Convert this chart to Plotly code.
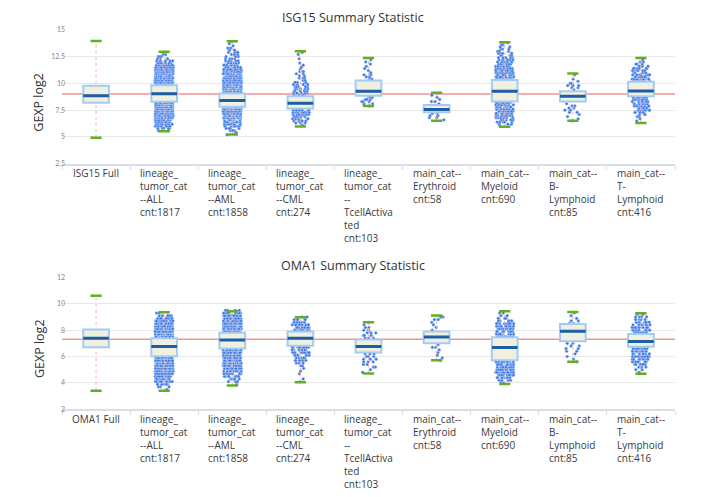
import numpy as np
import plotly.graph_objects as go

# category keys and the multi-line x labels under each box
group_keys = ["Full", "ALL", "AML", "CML", "TcellActivated",
              "Erythroid", "Myeloid", "B-Lymphoid", "T-Lymphoid"]
group_labels = [
    "lineage_<br>tumor_cat<br>--ALL<br>cnt:1817",
    "lineage_<br>tumor_cat<br>--AML<br>cnt:1858",
    "lineage_<br>tumor_cat<br>--CML<br>cnt:274",
    "lineage_<br>tumor_cat<br>--<br>TcellActiva<br>ted<br>cnt:103",
    "main_cat--<br>Erythroid<br>cnt:58",
    "main_cat--<br>Myeloid<br>cnt:690",
    "main_cat--<br>B-<br>Lymphoid<br>cnt:85",
    "main_cat--<br>T-<br>Lymphoid<br>cnt:416",
]

# ISG15 summary stats
isg_q1 = [8.20, 8.29, 7.83, 7.65, 8.84, 7.31, 8.32, 8.32, 8.81]
isg_median = [8.84, 9.03, 8.41, 8.14, 9.27, 7.56, 9.27, 8.81, 9.30]
isg_q3 = [9.79, 9.82, 9.06, 8.81, 10.28, 7.99, 10.31, 9.27, 10.16]
isg_lower = [4.92, 5.53, 5.23, 5.99, 7.89, 6.51, 5.96, 6.51, 6.30]
isg_upper = [13.96, 12.95, 13.93, 13.00, 12.37, 9.12, 13.84, 10.93, 12.37]
isg_ref = 9.0

# ISG15 sample points outside the boxes, as counts per 0.2 bin (groups 2..9)
isg_hi_start = [9.9, 9.1, 8.9, 10.4, 8.1, 10.4, 9.4, 10.2]
isg_hi_counts = [
    [30, 30, 30, 30, 30, 28, 25, 22, 18, 14, 9, 6, 5, 4, 2, 1],
    [30, 30, 30, 30, 30, 28, 26, 24, 22, 20, 16, 13, 10, 8, 7, 5, 4, 4, 3, 3, 2, 2, 1, 1, 1],
    [6, 6, 5, 5, 5, 4, 4, 3, 3, 2, 2, 2, 1, 1, 1, 1, 0, 1, 0, 1, 1],
    [2, 2, 2, 1, 1, 1, 1, 1, 1, 1],
    [1, 2, 1, 1, 1, 1],
    [12, 12, 12, 11, 11, 10, 10, 9, 7, 6, 5, 4, 4, 3, 3, 2, 2, 1],
    [1, 2, 3, 2, 1, 1, 0, 1],
    [11, 11, 11, 10, 9, 7, 6, 5, 3, 2, 1],
]
isg_lo_start = [8.2, 7.8, 7.5, 8.7, 7.2, 8.2, 8.1, 8.7]
isg_lo_counts = [
    [30, 30, 30, 30, 28, 26, 23, 20, 16, 12, 10, 7, 5, 2],
    [30, 30, 30, 29, 27, 21, 16, 11, 8, 6, 4, 3, 2, 1],
    [10, 10, 9, 8, 7, 5, 3, 1],
    [3, 4, 4, 3, 1],
    [2, 2, 2, 1],
    [12, 12, 12, 12, 11, 11, 10, 9, 7, 5, 3, 1],
    [1, 2, 2, 2, 2, 1, 1, 1, 1],
    [11, 11, 11, 10, 9, 8, 6, 5, 3, 2, 1, 1],
]

# OMA1 summary stats
oma_q1 = [6.71, 6.02, 6.61, 6.81, 6.31, 7.01, 5.72, 7.16, 6.74]
oma_median = [7.39, 6.76, 7.26, 7.39, 6.76, 7.48, 6.69, 7.91, 7.14]
oma_q3 = [8.04, 7.39, 7.81, 7.89, 7.29, 7.89, 7.46, 8.46, 7.71]
oma_lower = [3.40, 3.40, 3.80, 4.04, 4.72, 5.72, 3.92, 5.61, 4.69]
oma_upper = [10.60, 9.35, 9.43, 8.98, 8.60, 9.11, 9.43, 9.38, 9.28]
oma_ref = 7.3

oma_hi_start = [7.5, 7.9, 8.0, 7.4, 8.0, 7.5, 8.5, 7.8]
oma_hi_counts = [
    [32, 32, 32, 30, 28, 24, 17, 9, 5, 2],
    [32, 32, 32, 30, 28, 24, 18, 10, 4],
    [11, 11, 9, 7, 5, 2],
    [3, 3, 3, 2, 2, 1, 1],
    [1, 1, 1, 1, 2, 3],
    [13, 13, 13, 12, 11, 9, 6, 4, 2, 2],
    [2, 2, 1, 1, 1],
    [11, 11, 10, 9, 7, 5, 4, 2],
]
oma_lo_start = [5.9, 6.5, 6.7, 6.2, 6.9, 5.6, 7.0, 6.6]
oma_lo_counts = [
    [32, 32, 32, 30, 28, 26, 22, 18, 13, 9, 6, 3, 1],
    [32, 32, 32, 30, 29, 27, 24, 20, 15, 10, 7, 5, 3, 1],
    [10, 10, 9, 8, 6, 5, 3, 2, 1, 1, 1, 0, 1, 1],
    [3, 3, 3, 3, 2, 2, 1, 1],
    [1, 2, 1, 1, 1, 1, 1],
    [13, 13, 13, 13, 12, 11, 7, 4, 2],
    [2, 2, 2, 2, 1, 1, 1, 1],
    [11, 11, 11, 10, 9, 7, 6, 4, 2, 1],
]

BIN = 0.2
FONT = "Lato"
LABEL_FONT = "Open Sans"

# page body has an 8px margin, so the figure is sized/placed for that
W, H, OFF = 698, 489, 8


def xp(px):
    return (px - OFF) / W


def yp(py):
    return 1 - (py - OFF) / H


def expand_points(keys, hi_start, hi_counts, lo_start, lo_counts):
    xs, ys = [], []
    for k, s, c in zip(keys, hi_start, hi_counts):
        lv = s + BIN * np.arange(len(c))
        v = np.repeat(lv, c)
        ys += list(v)
        xs += [k] * len(v)
    for k, s, c in zip(keys, lo_start, lo_counts):
        lv = s - BIN * np.arange(len(c))
        v = np.repeat(lv, c)
        ys += list(v)
        xs += [k] * len(v)
    return xs, ys


def add_panel(fig, xa, ya, xo, yo, q1, med, q3, lower, upper, pts):
    # base axes: dotted whiskers + jittered samples
    wx, wy = [], []
    for k, lo, hi in zip(group_keys, lower, upper):
        wx += [k, k, None]
        wy += [lo, hi, None]
    fig.add_trace(go.Scatter(x=wx, y=wy, mode="lines", xaxis=xa, yaxis=ya,
                             line=dict(color="#f5b3b3", width=1, dash="dot"),
                             hoverinfo="skip"))
    fig.add_trace(go.Box(x=pts[0], y=pts[1], xaxis=xa, yaxis=ya,
                         boxpoints="all", jitter=0.7, pointpos=0,
                         fillcolor="rgba(0,0,0,0)", whiskerwidth=0,
                         line=dict(width=0, color="rgba(0,0,0,0)"),
                         marker=dict(size=3.2, color="#3b79e6",
                                     line=dict(width=0.4, color="#dfe9fb")),
                         hoverinfo="skip"))
    # overlay axes: boxes drawn above the samples
    fig.add_trace(go.Box(x=group_keys, q1=q1, median=med, q3=q3,
                         lowerfence=q1, upperfence=q3, xaxis=xo, yaxis=yo,
                         boxpoints=False, whiskerwidth=0,
                         fillcolor="#f0f0e1",
                         line=dict(color="#a4ccf2", width=2)))
    fig.add_trace(go.Box(x=group_keys, q1=med, median=med, q3=med,
                         lowerfence=med, upperfence=med, xaxis=xo, yaxis=yo,
                         boxpoints=False, whiskerwidth=0,
                         fillcolor="rgba(0,0,0,0)",
                         line=dict(color="#1d5ea6", width=3)))
    fig.add_trace(go.Scatter(x=group_keys + group_keys, y=list(lower) + list(upper),
                             mode="markers", xaxis=xo, yaxis=yo,
                             marker=dict(symbol="line-ew", size=8,
                                         line=dict(color="#62b021", width=2.5)),
                             hoverinfo="skip"))


fig = go.Figure()
add_panel(fig, "x", "y", "x3", "y3", isg_q1, isg_median, isg_q3, isg_lower, isg_upper,
          expand_points(group_keys[1:], isg_hi_start, isg_hi_counts, isg_lo_start, isg_lo_counts))
add_panel(fig, "x2", "y2", "x4", "y4", oma_q1, oma_median, oma_q3, oma_lower, oma_upper,
          expand_points(group_keys[1:], oma_hi_start, oma_hi_counts, oma_lo_start, oma_lo_counts))

xdom = [xp(62), xp(675)]
xcat = dict(type="category", categoryorder="array", categoryarray=group_keys,
            range=[-0.5, len(group_keys) - 0.5])
xcommon = dict(domain=xdom, showticklabels=False,
               ticks="outside", tickson="boundaries", ticklen=4,
               tickcolor="#d5dce5", showline=True, linecolor="#d8dfe8",
               linewidth=2, showgrid=False, zeroline=False, **xcat)
ycommon = dict(showline=False, zeroline=False, gridcolor="#e9e9e9",
               tickfont=dict(size=7, color="#8a8a8a", family=FONT),
               ticks="", ticklabelstandoff=-4)
isg_range = [2.5, 15.05]
oma_range = [2, 12.05]

fig.update_layout(
    width=W, height=H,
    margin=dict(l=0, r=0, t=0, b=0),
    paper_bgcolor="white", plot_bgcolor="white",
    showlegend=False, boxmode="overlay", boxgap=0.46,
    font=dict(family=FONT, color="#333333"),
    xaxis=dict(anchor="y", **xcommon),
    xaxis2=dict(anchor="y2", **xcommon),
    yaxis=dict(domain=[yp(162), yp(25.5)], range=isg_range,
               tickvals=[2.5, 5, 7.5, 10, 12.5, 15], **ycommon),
    yaxis2=dict(domain=[yp(411), yp(276.6)], range=oma_range,
                tickvals=[2, 4, 6, 8, 10, 12], **ycommon),
    xaxis3=dict(overlaying="x", anchor="y3", visible=False, **xcat),
    yaxis3=dict(overlaying="y", anchor="x3", visible=False, range=isg_range),
    xaxis4=dict(overlaying="x2", anchor="y4", visible=False, **xcat),
    yaxis4=dict(overlaying="y2", anchor="x4", visible=False, range=oma_range),
)

for ref, xa, ya in [(isg_ref, "x", "y"), (oma_ref, "x2", "y2")]:
    fig.add_shape(type="line", x0=0, x1=1, y0=ref, y1=ref,
                  xref=xa + " domain", yref=ya, layer="below",
                  line=dict(color="#f29393", width=1.5))

titles = [("ISG15 Summary Statistic", yp(14), "ISG15 Full", yp(100), yp(162)),
          ("OMA1 Summary Statistic", yp(265), "OMA1 Full", yp(350), yp(412))]
for (title, ty, full, gy, ly), xa in zip(titles, ["x", "x2"]):
    fig.add_annotation(text=title, x=xp(353), y=ty, xref="paper", yref="paper",
                       xanchor="center", yanchor="middle", showarrow=False,
                       font=dict(size=12.5, color="#333333", family=LABEL_FONT))
    fig.add_annotation(text="GEXP log2", x=xp(39), y=gy, xref="paper", yref="paper",
                       xanchor="center", yanchor="middle",
                       textangle=-90, showarrow=False,
                       font=dict(size=12.5, color="#333333", family=LABEL_FONT))
    for k, lab in zip(group_keys, [full] + group_labels):
        fig.add_annotation(text=lab, x=k, y=ly, xref=xa, yref="paper",
                           xanchor="center", yanchor="top", align="left",
                           showarrow=False,
                           font=dict(size=10, color="#3a3a3a", family=LABEL_FONT))

fig.write_html("out.html")
